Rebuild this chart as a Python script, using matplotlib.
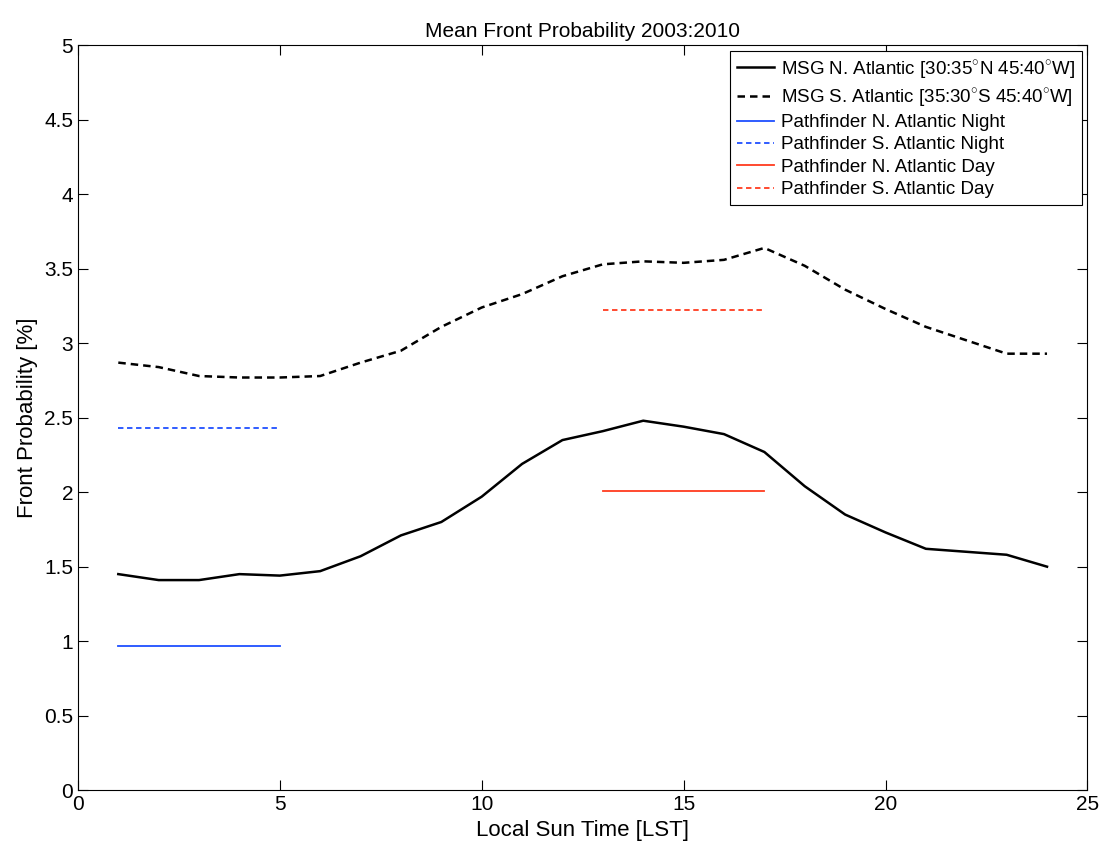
import numpy as np
import matplotlib
matplotlib.use('Agg')
import matplotlib.pyplot as plt

plt.rcParams['font.family'] = ['Liberation Sans', 'DejaVu Sans']
plt.rcParams['mathtext.fontset'] = 'custom'
plt.rcParams['mathtext.rm'] = 'Liberation Sans'

# horas locais e probabilidades medias
hours = np.arange(1, 25)
msg_north = [1.45, 1.41, 1.41, 1.45, 1.44, 1.47, 1.57, 1.71, 1.80, 1.97, 2.19, 2.35,
             2.41, 2.48, 2.44, 2.39, 2.27, 2.04, 1.85, 1.73, 1.62, 1.60, 1.58, 1.50]
msg_south = [2.87, 2.84, 2.78, 2.77, 2.77, 2.78, 2.87, 2.95, 3.11, 3.24, 3.33, 3.45,
             3.53, 3.55, 3.54, 3.56, 3.64, 3.52, 3.36, 3.23, 3.11, 3.02, 2.93, 2.93]

night_hours = [1, 5]
day_hours = [13, 17]
pf_north_night = 0.97
pf_south_night = 2.43
pf_north_day = 2.01
pf_south_day = 3.22

blue = '#1f4fff'
red = '#ff3b1f'

fig = plt.figure(figsize=(11.13, 8.56), dpi=100)
ax = fig.add_axes([0.070, 0.077, 0.907, 0.870])

ax.plot(hours, msg_north, color='black', lw=1.8,
        label=r'MSG N. Atlantic [30:35$^{\circ}$N 45:40$^{\circ}$W]')
ax.plot(hours, msg_south, color='black', lw=1.8, ls=(0, (3, 2)),
        label=r'MSG S. Atlantic [35:30$^{\circ}$S 45:40$^{\circ}$W]')
ax.plot(night_hours, [pf_north_night] * 2, color=blue, lw=1.3,
        label='Pathfinder N. Atlantic Night')
ax.plot(night_hours, [pf_south_night] * 2, color=blue, lw=1.3, ls=(0, (3, 2)),
        label='Pathfinder S. Atlantic Night')
ax.plot(day_hours, [pf_north_day] * 2, color=red, lw=1.3,
        label='Pathfinder N. Atlantic Day')
ax.plot(day_hours, [pf_south_day] * 2, color=red, lw=1.3, ls=(0, (3, 2)),
        label='Pathfinder S. Atlantic Day')

ax.set_xlim(0, 25)
ax.set_ylim(0, 5)
ax.set_xticks(np.arange(0, 26, 5))
ax.set_yticks(np.arange(0, 5.01, 0.5))
ax.set_yticklabels(['0', '0.5', '1', '1.5', '2', '2.5', '3', '3.5', '4', '4.5', '5'])
ax.tick_params(direction='in', top=True, right=True, labelsize=15, length=7, width=0.8)
for s in ax.spines.values():
    s.set_linewidth(0.8)

ax.set_title('Mean Front Probability 2003:2010', fontsize=15)
ax.set_xlabel('Local Sun Time [LST]', fontsize=16)
ax.set_ylabel('Front Probability [%]', fontsize=16)

leg = ax.legend(loc='upper right', fontsize=13.5, fancybox=False, edgecolor='black',
                framealpha=1, handlelength=2.0, handletextpad=0.35,
                borderaxespad=0.3, labelspacing=0.28, borderpad=0.35)
leg.get_frame().set_linewidth(0.8)

fig.savefig('out.png', dpi=100)
